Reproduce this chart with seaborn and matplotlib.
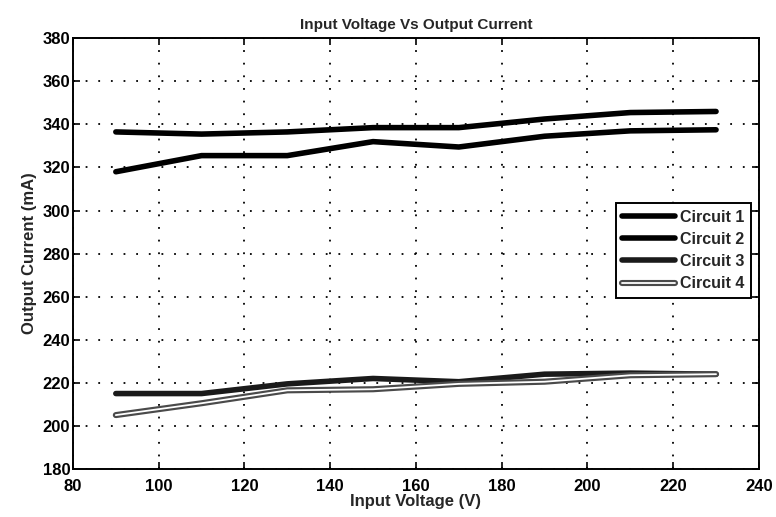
import matplotlib
matplotlib.use('Agg')
import matplotlib.pyplot as plt
import matplotlib.patheffects as pe
import numpy as np
import seaborn as sns

# Input voltage samples (V)
voltage = [90, 110, 130, 150, 170, 190, 210, 230]

# Output current per circuit (mA)
circuit_1 = [336.5, 335.5, 336.5, 338.5, 338.5, 342.5, 345.5, 346]
circuit_2 = [318, 325.5, 325.5, 332, 329.5, 334.5, 337, 337.5]
circuit_3 = [215, 215, 219.5, 222, 220.5, 224, 224.5, 224]
circuit_4 = [205, 210.5, 216.5, 217, 219.5, 220.5, 223.5, 224]

labels = ['Circuit 1', 'Circuit 2', 'Circuit 3', 'Circuit 4']

sns.set_style('ticks')
plt.rcParams['font.family'] = ['Liberation Sans', 'DejaVu Sans']
plt.rcParams['font.weight'] = 'bold'

fig = plt.figure(figsize=(7.76, 5.17), dpi=100)
axes = fig.add_axes([0.094, 0.093, 0.884, 0.833])

series = [circuit_1, circuit_2, circuit_3, circuit_4]
for values, label in zip(series, labels):
    if label == 'Circuit 4':
        line = sns.lineplot(x=voltage, y=values, ax=axes, color='white',
                            linewidth=1.3, label=label).lines[-1]
        line.set_path_effects([pe.Stroke(linewidth=4.4, foreground='#4a4a4a'),
                               pe.Normal()])
    else:
        color = '#1a1a1a' if label == 'Circuit 3' else 'black'
        sns.lineplot(x=voltage, y=values, ax=axes, color=color,
                     linewidth=4.0, label=label)

axes.set_xlim(80, 240)
axes.set_ylim(180, 380)
axes.set_xticks(np.arange(80, 241, 20))
axes.set_yticks(np.arange(180, 381, 20))

axes.grid(True, color='black', linestyle=(0, (1, 6)), linewidth=1.3)
axes.tick_params(direction='in', top=True, right=True, length=5,
                 width=1.2, labelsize=12, colors='black')
axes.tick_params(axis='x', pad=7)
axes.tick_params(axis='y', pad=2)
for spine in axes.spines.values():
    spine.set_visible(True)
    spine.set_color('black')
    spine.set_linewidth(1.4)

axes.set_title('Input Voltage Vs Output Current', fontsize=11,
               fontweight='bold', pad=7)
axes.set_xlabel('Input Voltage (V)', fontsize=12, fontweight='bold', labelpad=0)
axes.set_ylabel('Output Current (mA)', fontsize=12, fontweight='bold', labelpad=4)

legend = axes.legend(loc='upper right', bbox_to_anchor=(0.988, 0.617),
                     borderaxespad=0, fancybox=False, framealpha=1,
                     edgecolor='black', handlelength=3.3,
                     handletextpad=0.3, labelspacing=0.45, borderpad=0.4,
                     prop={'size': 11.5, 'weight': 'bold'})
legend.get_frame().set_linewidth(1.4)

fig.savefig('out.png', dpi=100)
